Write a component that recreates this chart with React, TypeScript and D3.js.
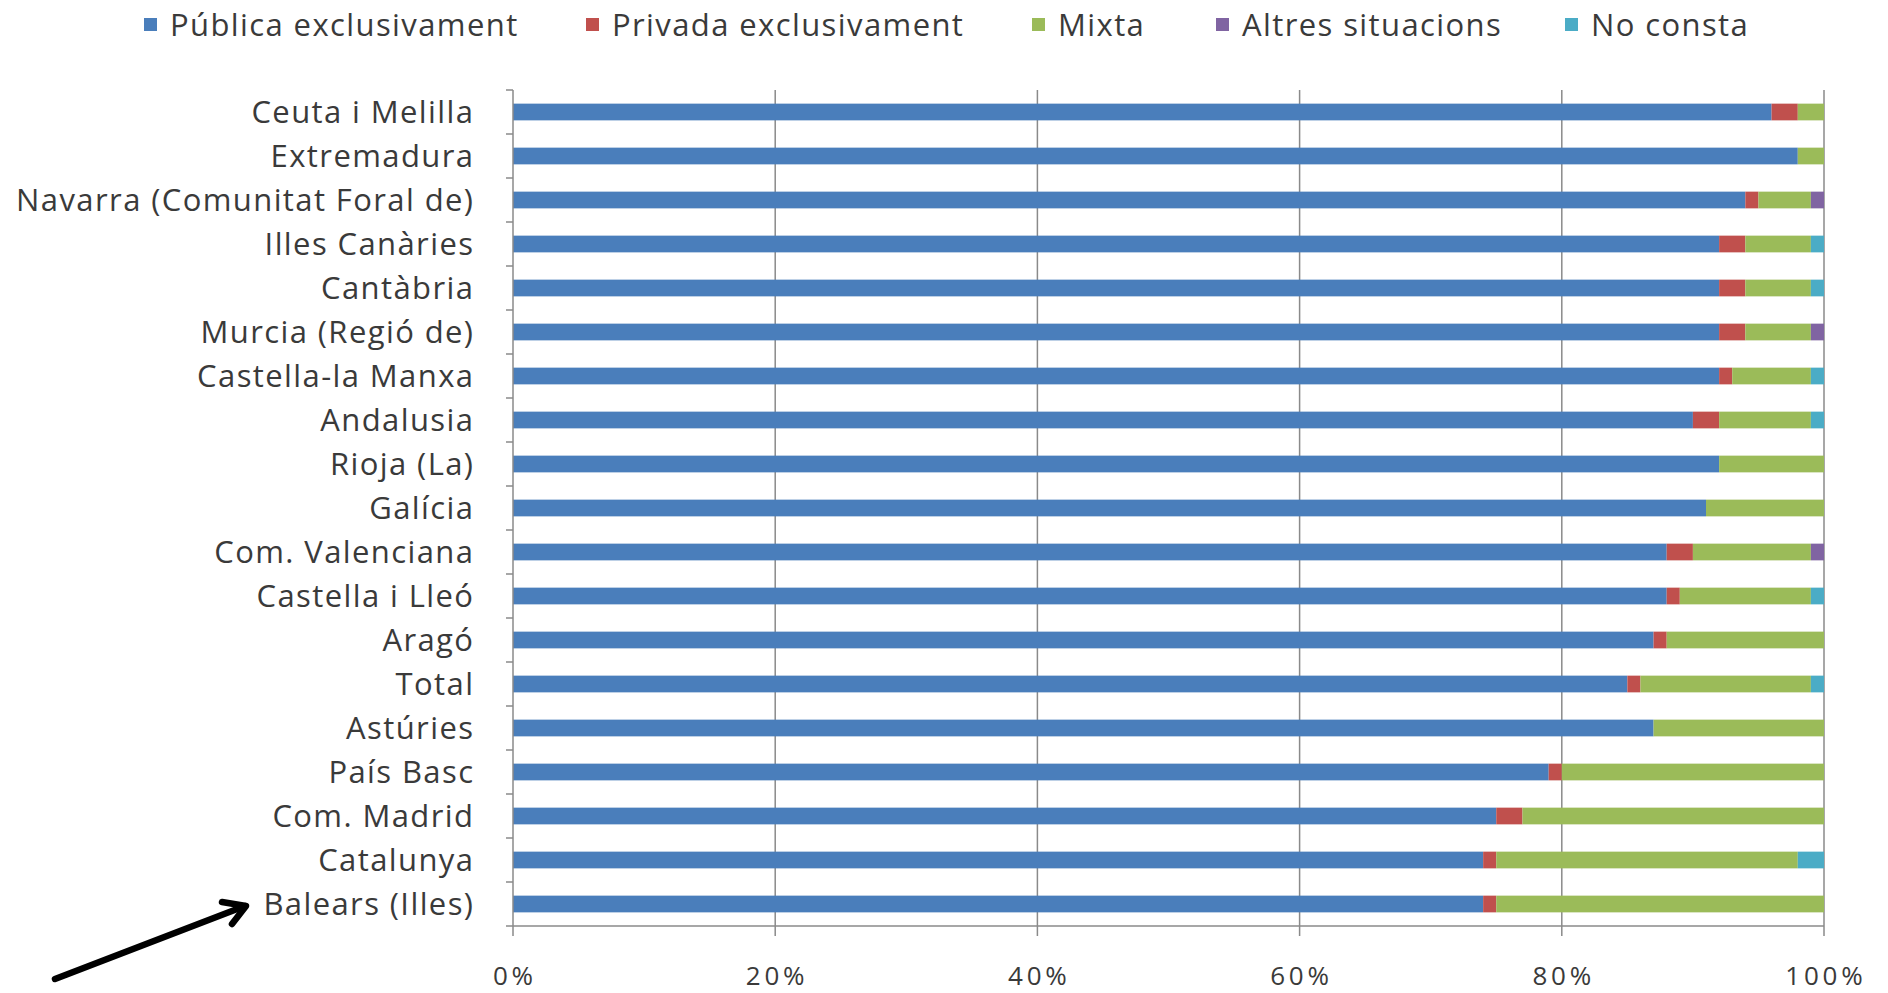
import React from "react";
import * as d3 from "d3";

const categories = [
  "Ceuta i Melilla",
  "Extremadura",
  "Navarra (Comunitat Foral de)",
  "Illes Canàries",
  "Cantàbria",
  "Murcia (Regió de)",
  "Castella-la Manxa",
  "Andalusia",
  "Rioja (La)",
  "Galícia",
  "Com. Valenciana",
  "Castella i Lleó",
  "Aragó",
  "Total",
  "Astúries",
  "País Basc",
  "Com. Madrid",
  "Catalunya",
  "Balears (Illes)",
];

const seriesNames = [
  "Pública exclusivament",
  "Privada exclusivament",
  "Mixta",
  "Altres situacions",
  "No consta",
];

const publica = [96, 98, 94, 92, 92, 92, 92, 90, 92, 91, 88, 88, 87, 85, 87, 79, 75, 74, 74];
const privada = [2, 0, 1, 2, 2, 2, 1, 2, 0, 0, 2, 1, 1, 1, 0, 1, 2, 1, 1];
const mixta = [2, 2, 4, 5, 5, 5, 6, 7, 8, 9, 9, 10, 12, 13, 13, 20, 23, 23, 25];
const altres = [0, 0, 1, 0, 0, 1, 0, 0, 0, 0, 1, 0, 0, 0, 0, 0, 0, 0, 0];
const noConsta = [0, 0, 0, 1, 1, 0, 1, 1, 0, 0, 0, 1, 0, 1, 0, 0, 0, 2, 0];

const xTicks = [0, 20, 40, 60, 80, 100];
const colors = ["#4a7ebb", "#c0504d", "#9bbb59", "#8064a2", "#4bacc6"];

const FONT = "'Open Sans', sans-serif";

export default function App() {
  const W = 1888;
  const H = 993;
  const left = 513;
  const right = 1824;
  const top = 90;
  const bottom = 926;

  const x = d3.scaleLinear().domain([0, 100]).range([left, right]);
  const y = d3.scaleBand<string>().domain(categories).range([top, bottom]).paddingInner(0.62).paddingOuter(0.31);

  const rows = categories.map((c, i) => {
    const r: any = { cat: c };
    r[seriesNames[0]] = publica[i];
    r[seriesNames[1]] = privada[i];
    r[seriesNames[2]] = mixta[i];
    r[seriesNames[3]] = altres[i];
    r[seriesNames[4]] = noConsta[i];
    return r;
  });
  const stacked = d3.stack<any>().keys(seriesNames)(rows);

  const band = (bottom - top) / categories.length;
  const catTicks = d3.range(categories.length + 1).map((i) => top + i * band);

  const legendX = [144, 586, 1032, 1216, 1565];
  const LS = 1.4;
  const TLS = 3.8;

  return (
    <svg width={W} height={H} style={{ display: "block", position: "absolute", left: 0, top: 0, background: "#fff" }}>
      <rect x={0} y={0} width={W} height={H} fill="#fff" />
      {/* gridlines */}
      {xTicks.slice(1).map((t) => (
        <line key={t} x1={x(t)} x2={x(t)} y1={top} y2={bottom + 10} stroke="#8a8a8a" strokeWidth={1.5} />
      ))}
      {/* bars */}
      {stacked.map((s, si) => (
        <g key={s.key} fill={colors[si]}>
          {s.map((d, i) =>
            d[1] - d[0] > 0 ? (
              <rect
                key={i}
                x={x(d[0])}
                y={y(categories[i])!}
                width={x(d[1]) - x(d[0])}
                height={y.bandwidth()}
              />
            ) : null
          )}
        </g>
      ))}
      {/* axes */}
      <line x1={left} x2={left} y1={top} y2={bottom} stroke="#8a8a8a" strokeWidth={1.5} />
      <line x1={left} x2={right} y1={bottom} y2={bottom} stroke="#8a8a8a" strokeWidth={1.5} />
      {catTicks.map((t, i) => (
        <line key={i} x1={left - 7} x2={left} y1={t} y2={t} stroke="#8a8a8a" strokeWidth={1.5} />
      ))}
      <line x1={left} x2={left} y1={bottom} y2={bottom + 10} stroke="#8a8a8a" strokeWidth={1.5} />
      {/* category labels */}
      {categories.map((c) => (
        <text
          key={c}
          x={473 + LS}
          y={y(c)! + y.bandwidth() / 2 - 1}
          textAnchor="end"
          dominantBaseline="central"
          fontFamily={FONT}
          fontSize={31}
          letterSpacing={LS}
          fill="#3a3a3a"
        >
          {c}
        </text>
      ))}
      {/* x tick labels */}
      {xTicks.map((t) => (
        <text
          key={t}
          x={x(t) + TLS / 2}
          y={975}
          textAnchor="middle"
          dominantBaseline="central"
          fontFamily={FONT}
          fontSize={26}
          letterSpacing={TLS}
          fill="#3a3a3a"
        >
          {t}%
        </text>
      ))}
      {/* legend */}
      {seriesNames.map((n, i) => (
        <g key={n}>
          <rect x={legendX[i]} y={18} width={13} height={13} fill={colors[i]} />
          <text
            x={legendX[i] + 26}
            y={24}
            dominantBaseline="central"
            fontFamily={FONT}
            fontSize={31}
            letterSpacing={LS}
            fill="#3a3a3a"
          >
            {n}
          </text>
        </g>
      ))}
      {/* arrow */}
      <g stroke="#000" strokeWidth={6.5} strokeLinecap="round" fill="none">
        <line x1={55} y1={979} x2={245} y2={906} />
        <polyline points="222,902 246,906 232,924" strokeLinejoin="round" />
      </g>
    </svg>
  );
}
